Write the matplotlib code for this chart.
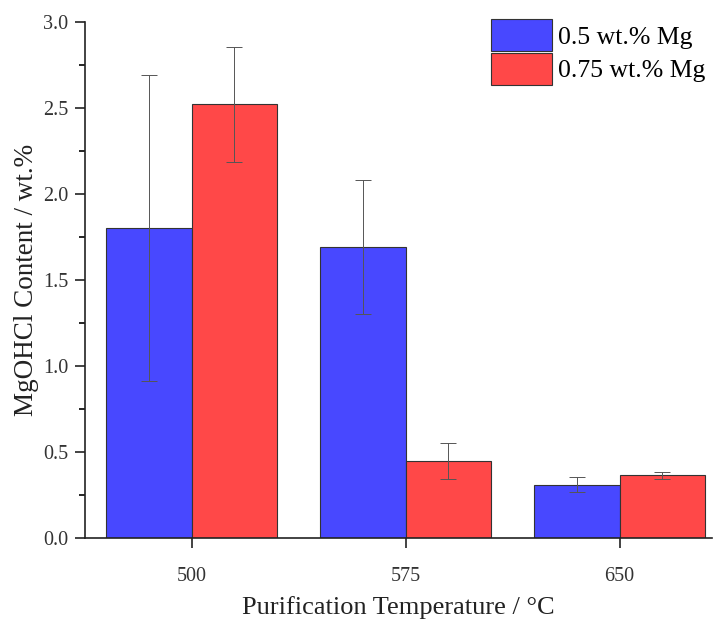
import matplotlib
matplotlib.use("Agg")
import matplotlib.pyplot as plt
import numpy as np
from matplotlib.ticker import MultipleLocator

categories = ["500", "575", "650"]
series_names = ["0.5 wt.% Mg", "0.75 wt.% Mg"]
mg05 = [1.80, 1.69, 0.31]
mg05_err = [0.89, 0.39, 0.045]
mg075 = [2.52, 0.45, 0.365]
mg075_err = [0.335, 0.105, 0.02]

plt.rcParams['font.family'] = ['Liberation Serif', 'DejaVu Serif']

fig = plt.figure(figsize=(7.18, 6.22), dpi=100)
ax = fig.add_axes([0.118, 0.135, 0.873, 0.83])

x = np.arange(len(categories))
w = 0.4
err_kw = dict(ecolor='#555555', elinewidth=0.7, capsize=6, capthick=0.7)
ax.bar(x - w/2, mg05, w, yerr=mg05_err, color='#4848FF', edgecolor='#333333',
       linewidth=0.8, label=series_names[0], error_kw=err_kw)
ax.bar(x + w/2, mg075, w, yerr=mg075_err, color='#FF4848', edgecolor='#333333',
       linewidth=0.8, label=series_names[1], error_kw=err_kw)

ax.set_xlim(-0.5, 2.43)
ax.set_ylim(0, 3.0)
ax.set_xticks(x)
ax.set_xticklabels(categories)
ax.yaxis.set_major_locator(MultipleLocator(0.5))
ax.yaxis.set_minor_locator(MultipleLocator(0.25))
ax.yaxis.set_major_formatter(matplotlib.ticker.FormatStrFormatter('%.1f'))
ax.tick_params(axis='both', which='major', direction='out', length=7, width=1.2,
               labelsize=14.5, colors='#222222', labelcolor='#333333')
ax.tick_params(axis='y', which='minor', direction='out', length=4, width=1.2)
ax.tick_params(axis='x', pad=14)
ax.tick_params(axis='y', pad=5)
ax.spines['top'].set_visible(False)
ax.spines['right'].set_visible(False)
for s in ['left', 'bottom']:
    ax.spines[s].set_linewidth(1.2)
    ax.spines[s].set_color('#222222')

ax.set_xlabel('Purification Temperature / °C', fontsize=19, color='#222222', labelpad=7)
ax.set_ylabel('MgOHCl Content / wt.%', fontsize=19.5, color='#222222', labelpad=3)

leg = ax.legend(loc='upper right', bbox_to_anchor=(1.014, 1.035), frameon=False,
                fontsize=18.5, handlelength=2.4, handleheight=1.55,
                handletextpad=0.2, labelspacing=0.05, borderaxespad=0.2)

fig.savefig('out.png', dpi=100)
